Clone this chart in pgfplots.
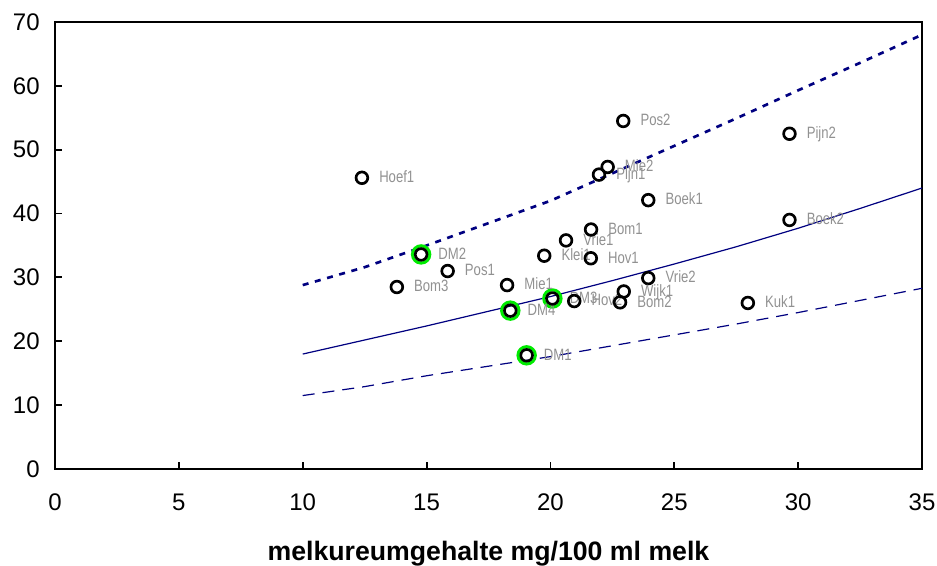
\documentclass[border=0pt]{standalone}
\usepackage{pgfplots}
\usepackage{pgfplotstable}
\pgfplotsset{compat=1.18}
\usepackage{fontspec}
\setmainfont{Liberation Sans}
\newfontfamily\narrowfont[FakeStretch=0.8]{Liberation Sans}
\definecolor{navyline}{RGB}{0,0,128}
\definecolor{labgray}{RGB}{145,145,145}
\definecolor{ringgreen}{RGB}{0,235,0}

\pgfplotstableread{
x y label
12.39 45.6 Hoef1
14.78 33.6 DM2
15.85 31.0 Pos1
13.80 28.5 Bom3
18.25 28.8 Mie1
18.38 24.8 DM4
20.08 26.7 DM3
20.96 26.3 Hov2
19.04 17.8 DM1
19.75 33.4 Klei1
20.63 35.8 Vrie1
21.64 37.5 Bom1
21.63 33.0 Hov1
23.95 29.9 Vrie2
22.96 27.8 Wijk1
22.81 26.1 Bom2
27.97 26.0 Kuk1
22.94 54.5 Pos2
22.31 47.3 Mie2
21.96 46.1 Pijn1
23.95 42.1 Boek1
29.65 52.5 Pijn2
29.65 39.0 Boek2
}\farms

\pgfplotstableread{
x y
14.78 33.6
18.38 24.8
20.08 26.7
19.04 17.8
}\dmfarms

\begin{document}
\begin{tikzpicture}
\begin{axis}[
  scale only axis,
  width=650.25pt, height=335.25pt,
  xmin=0, xmax=35, ymin=0, ymax=70,
  xtick={0,5,...,35}, ytick={0,10,...,70},
  xtick pos=left, ytick pos=left,
  tick align=inside,
  major tick length=5pt,
  axis line style={line width=2pt},
  every tick/.style={black, line width=1.4pt},
  /pgf/number format/assume math mode=true,
  tick label style={font=\fontsize{18}{20}\selectfont},
  xticklabel style={yshift=-15pt},
  yticklabel style={xshift=-8pt},
  xlabel={\textbf{melkureumgehalte mg/100 ml melk}},
  xlabel style={font=\fontsize{20}{22}\selectfont, at={(axis description cs:0.5,0)}, anchor=base, yshift=-68.25pt},
  clip=false,
]
\addplot[navyline, line width=0.9pt] coordinates {
(10,18.0) (12.5,20.2) (15,22.4) (17.5,24.7) (20,27.0) (22.5,29.5) (25,32.1) (27.5,34.8) (30,37.7) (32.5,40.8) (35,44.0)};
\addplot[navyline, line width=2pt, dash pattern=on 4.5pt off 5pt] coordinates {
(10,28.8) (12.5,31.6) (15,35.0) (17.5,38.5) (20,42.0) (22.5,46.3) (25,50.6) (27.5,54.9) (30,59.3) (32.5,63.6) (35,68.0)};
\addplot[navyline, line width=0.9pt, dash pattern=on 9pt off 6pt] coordinates {
(10,11.5) (12.5,12.9) (15,14.6) (17.5,16.1) (20,17.6) (22.5,19.3) (25,21.0) (27.5,22.7) (30,24.5) (32.5,26.4) (35,28.3)};
\addplot[only marks, mark=o, mark size=6.5pt, mark options={ringgreen, line width=2.3pt}] table {\dmfarms};
\addplot[only marks, mark=o, mark size=4.4pt, mark options={black, line width=2pt},
  point meta=explicit symbolic,
  nodes near coords,
  every node near coord/.style={anchor=west, xshift=11pt, text=labgray, font=\narrowfont\fontsize{12.3}{13}\selectfont, inner sep=1pt, text height=0.72em, text depth=0pt},
] table[meta=label] {\farms};
\end{axis}
\pgfresetboundingbox
\path[use as bounding box] ([xshift=-41.25pt, yshift=-72.75pt]current axis.south west) rectangle ([xshift=11.25pt, yshift=16.5pt]current axis.north east);
\end{tikzpicture}
\end{document}
